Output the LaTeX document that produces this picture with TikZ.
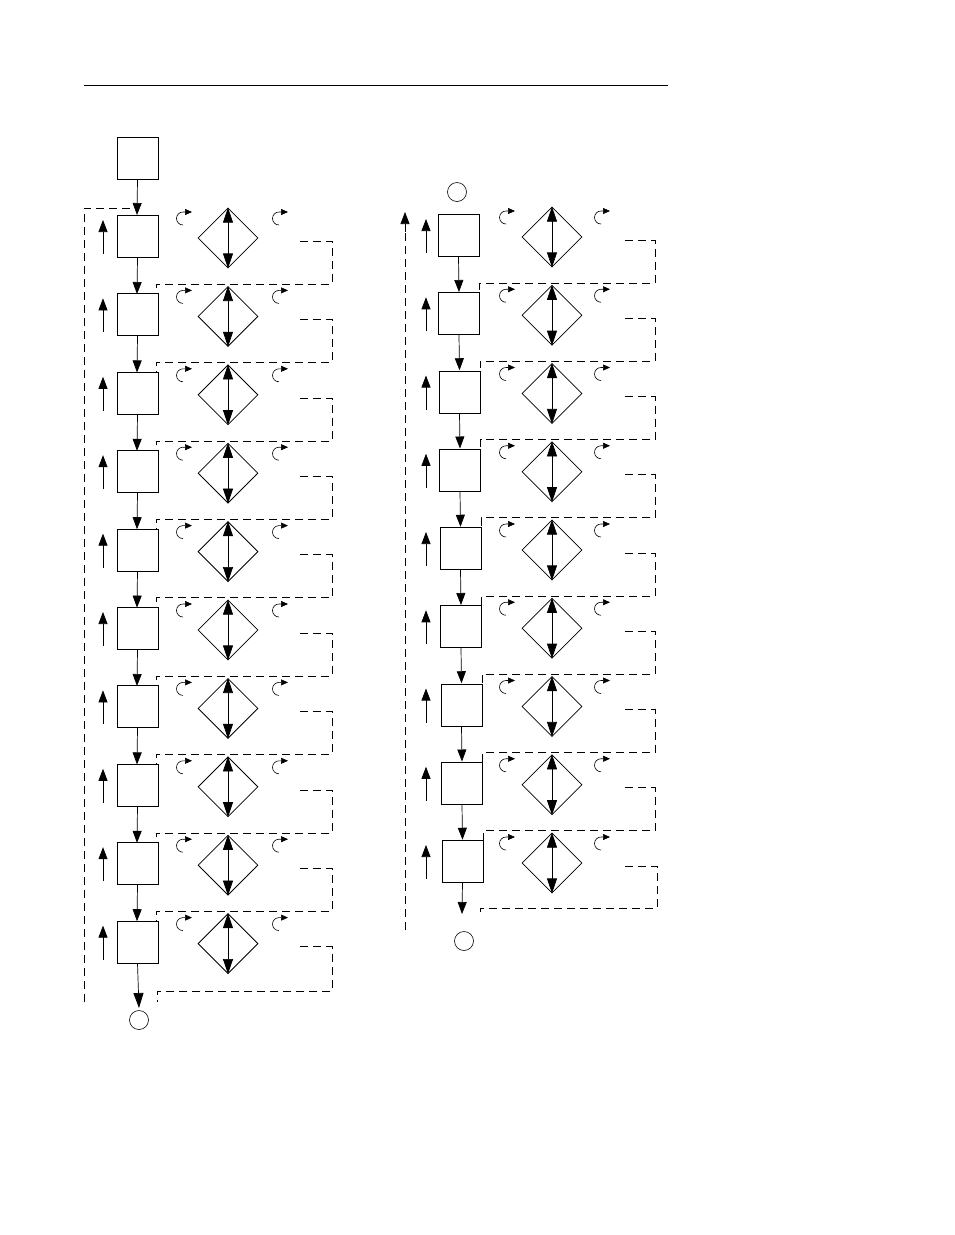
\documentclass[tikz,border=0pt]{standalone}
\usetikzlibrary{arrows.meta,shapes.geometric}
\begin{document}
\begin{tikzpicture}[x=1pt,y=-1pt,
 boxn/.style={draw,line width=0.8pt,minimum width=41pt,minimum height=42pt,inner sep=0,anchor=north},
 dia/.style={draw,diamond,line width=0.8pt,minimum width=60pt,minimum height=60pt,inner sep=0},
 arr/.style={line width=0.7pt,-{Triangle[length=12pt,width=9pt]}},
 tip/.style={line width=0.7pt,-{Triangle[length=15pt,width=10pt]}},
 curl/.style={line width=0.6pt,-{Triangle[length=7pt,width=6pt]}},
 dsh/.style={line width=0.6pt,dash pattern=on 8pt off 5pt},
 circ/.style={draw,circle,minimum size=19pt,inner sep=0,line width=0.6pt}]
\useasboundingbox (0,0) rectangle (954,1235);
\draw[line width=0.6pt] (84,85) -- (668,85);
% left column
\node[boxn] (L) at (137.5,137) {};
\coordinate (Lin) at (137,215);
\draw[arr] (L.south) -- (Lin);
\draw[dsh] (84,1002) -- (84,208) -- (137,208);
\foreach \i in {0,...,9}{
 \pgfmathsetmacro{\T}{215+78.4*\i}
 \pgfmathsetmacro{\C}{\T+21}
 \node[boxn] (lb\i) at (137.5,\T) {};
 \node[dia] (ld\i) at (228,\C+2) {};
 \draw[tip] (ld\i.center) -- (ld\i.north);
 \draw[tip] (ld\i.center) -- (ld\i.south);
 \coordinate (lu\i) at (103,\C+18);
 \draw[arr] (lu\i) -- ++(0,-34);
 \draw[curl] (183,\C-11) arc (90:270:6.5) -- ++(9,0);
 \draw[curl] (279,\C-11) arc (90:270:6.5) -- ++(9,0);
 \ifnum\i<9
   \coordinate (ln\i) at (137,\T+79);
   \draw[arr] (lb\i.south) -- (ln\i);
   \draw[dsh] (300,\C+5) -- (332,\C+5) -- (332,\T+69) -- (156,\T+69) -- (156,\T+79);
 \else
   \coordinate (ln\i) at (139,1008);
   \draw[tip] (lb\i.south) -- (ln\i);
   \draw[dsh] (300,\C+5) -- (332,\C+5) -- (332,991) -- (157,991) -- (157,1002);
 \fi
}
\node[circ] (lc) at (139,1020) {};
% right column
\node[circ] (rc0) at (457,192) {};
\coordinate (rbig) at (405,930);
\draw[dsh] (rbig) -- (405,230);
\draw[arr] (405,232) -- (405,212);
\foreach \j in {0,...,8}{
 \pgfmathsetmacro{\T}{214+78.25*\j}
 \pgfmathsetmacro{\C}{\T+21}
 \pgfmathsetmacro{\X}{458.5+0.5*\j}
 \node[boxn] (rb\j) at (\X,\T) {};
 \node[dia] (rd\j) at (552,\C+2) {};
 \draw[tip] (rd\j.center) -- (rd\j.north);
 \draw[tip] (rd\j.center) -- (rd\j.south);
 \draw[arr] (426,\C+18) -- ++(0,-34);
 \draw[curl] (506,\C-11) arc (90:270:6.5) -- ++(9,0);
 \draw[curl] (601,\C-11) arc (90:270:6.5) -- ++(9,0);
 \ifnum\j<8
   \coordinate (rn\j) at (\X+0.5,\T+78);
   \draw[arr] (rb\j.south) -- (rn\j);
   \draw[dsh] (625,\C+5) -- (655,\C+5) -- (655,\T+69) -- (\X+21,\T+69) -- (\X+21,\T+78);
 \else
   \coordinate (rn\j) at (462,914);
   \draw[arr] (rb\j.south) -- (rn\j);
   \draw[dsh] (625,\C+5) -- (657,\C+5) -- (657,908) -- (480,908) -- (480,915);
 \fi
}
\node[circ] (rc1) at (464,941) {};
\end{tikzpicture}
\end{document}
